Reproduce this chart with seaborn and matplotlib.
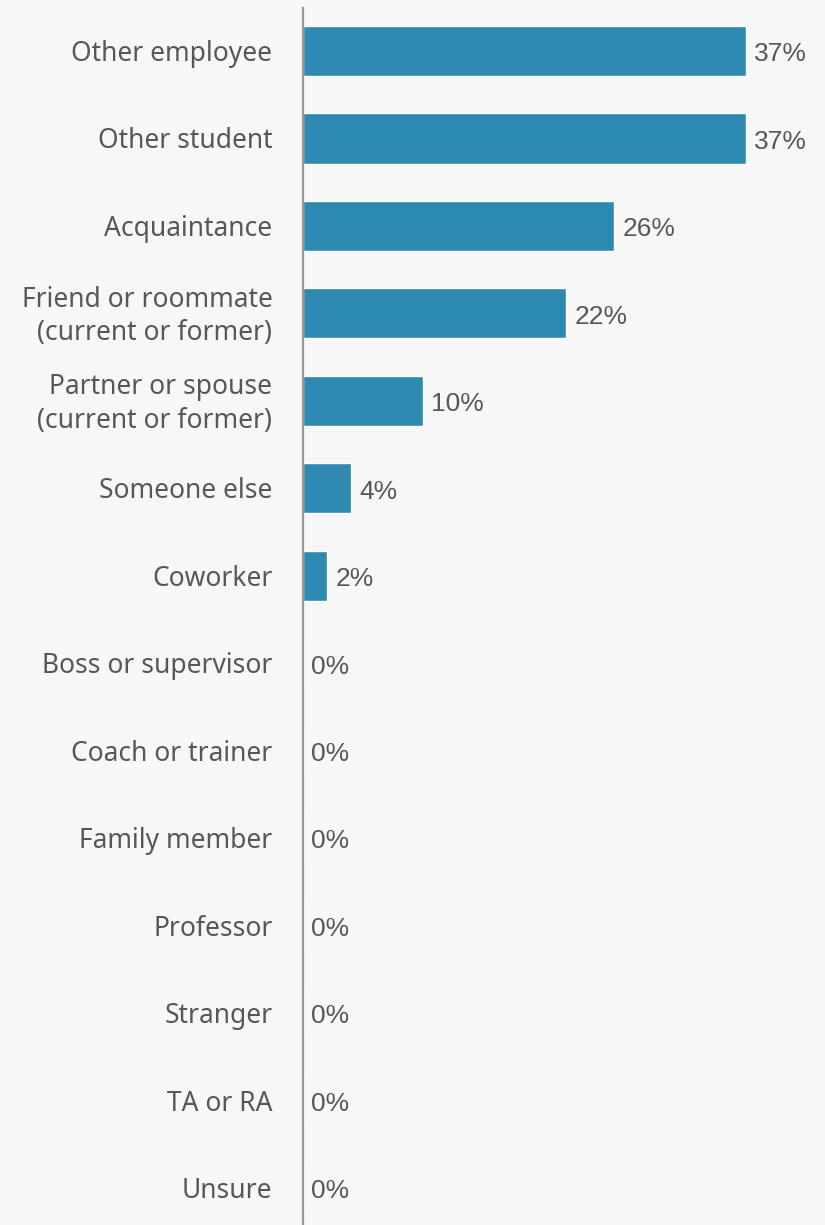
import matplotlib
matplotlib.use("Agg")
import matplotlib.pyplot as plt
import matplotlib.transforms as mtrans
import seaborn as sns
import pandas as pd

categories = [
    "Other employee",
    "Other student",
    "Acquaintance",
    "Friend or roommate\n(current or former)",
    "Partner or spouse\n(current or former)",
    "Someone else",
    "Coworker",
    "Boss or supervisor",
    "Coach or trainer",
    "Family member",
    "Professor",
    "Stranger",
    "TA or RA",
    "Unsure",
]
percent = [37, 37, 26, 22, 10, 4, 2, 0, 0, 0, 0, 0, 0, 0]

BG = "#f7f7f7"
BAR = "#2e8ab0"
TEXT = "#575757"

sns.set_theme(style="white")
plt.rcParams["font.family"] = ["Noto Sans", "DejaVu Sans"]

df = pd.DataFrame({"who": categories, "pct": percent})

fig = plt.figure(figsize=(8.25, 12.25), dpi=100, facecolor=BG)
ax = fig.add_axes([303 / 825, 0.0, (825 - 303) / 825, (1225 - 8) / 1225])
ax.set_facecolor(BG)

sns.barplot(data=df, x="pct", y="who", orient="h", color=BAR,
            saturation=1, width=0.575, ax=ax)

ax.set_xlim(0, 43.6)
ax.set_ylim(13.42, -0.49)

for s in ["top", "right", "bottom"]:
    ax.spines[s].set_visible(False)
ax.spines["left"].set_color("#999999")
ax.spines["left"].set_linewidth(1.6)

ax.set_xticks([])
ax.set_xlabel("")
ax.set_ylabel("")
ax.tick_params(axis="y", length=0, pad=22, labelsize=19.0, labelcolor=TEXT)

# nudge category names a few pixels down so they sit on the bar centreline
shift = mtrans.ScaledTranslation(0, -3 / 100, fig.dpi_scale_trans)
for lbl in ax.get_yticklabels():
    lbl.set_linespacing(1.27)
    lbl.set_va("center")
    lbl.set_transform(lbl.get_transform() + shift)

for cont in ax.containers:
    texts = ax.bar_label(cont, labels=[f"{v}%" for v in percent], padding=6,
                         fontsize=19, color=TEXT, family="Liberation Sans")
    for t in texts:
        dx, dy = t.xyann
        t.xyann = (dx, dy - 2.3)

fig.savefig("out.png", dpi=100, facecolor=BG)
